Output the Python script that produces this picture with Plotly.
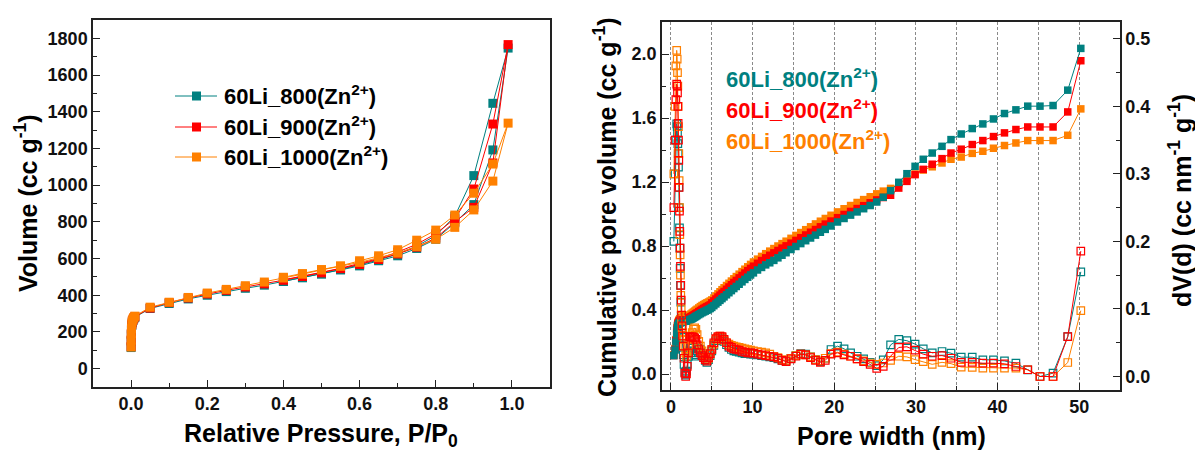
import plotly.graph_objects as go

# ---------------- data: N2 isotherms (left) ----------------
P_ads = [0.0001, 0.0003, 0.0006, 0.001, 0.002, 0.003, 0.005, 0.007, 0.01, 0.05, 0.10, 0.15, 0.20,
         0.25, 0.30, 0.35, 0.40, 0.45, 0.50, 0.55, 0.60, 0.65, 0.70, 0.75, 0.80, 0.85, 0.90, 0.95, 0.99]
P_des = [0.95, 0.90, 0.85, 0.80, 0.75, 0.70, 0.65, 0.60, 0.55, 0.50, 0.45, 0.40]

V800_ads = [115, 150, 185, 210, 235, 250, 262, 272, 280, 328, 355, 380, 400, 420, 438, 455, 475,
            495, 515, 538, 560, 588, 615, 655, 705, 795, 894, 1192, 1747]
V800_des = [1446, 1052, 830, 725, 668, 625, 592, 565, 540, 518, 497, 476]
V900_ads = [120, 155, 190, 215, 240, 255, 266, 275, 283, 330, 360, 385, 407, 427, 445, 462, 482,
            502, 522, 545, 568, 595, 625, 662, 712, 800, 879, 1121, 1766]
V900_des = [1333, 979, 817, 735, 678, 635, 600, 572, 547, 525, 504, 484]
V1000_ads = [118, 155, 190, 218, 245, 260, 270, 278, 286, 335, 362, 388, 412, 432, 452, 472, 494,
             515, 538, 558, 579, 605, 630, 665, 705, 770, 865, 1022, 1338]
V1000_des = [1115, 956, 837, 755, 700, 648, 615, 588, 560, 540, 518, 498]

# ---------------- data: pore size distribution (right) ----------------
W = [0.35, 0.50, 0.60, 0.70, 0.76, 0.80, 0.84, 0.88, 0.92, 0.96,
     1.00, 1.04, 1.08, 1.12, 1.16, 1.20, 1.25, 1.30, 1.36, 1.42,
     1.50, 1.60, 1.70, 1.80, 1.90, 2.00, 2.15, 2.30, 2.45, 2.60,
     2.75, 2.90, 3.05, 3.20, 3.40, 3.60, 3.80, 4.00, 4.20, 4.40,
     4.60, 4.80, 5.00, 5.25, 5.50, 5.75, 6.00, 6.25, 6.50, 6.80,
     7.10, 7.40, 7.70, 8.00, 8.35, 8.70, 9.05, 9.40, 9.75, 10.1,
     10.6, 11.1, 11.6, 12.1, 12.6, 13.1, 13.6, 14.1, 14.7, 15.3,
     15.9, 16.5, 17.1, 17.7, 18.3, 18.9, 19.6, 20.4, 21.2, 22.0,
     22.8, 23.6, 24.4, 25.2, 26.0, 26.9, 27.9, 28.9, 29.9, 30.9,
     32.0, 33.2, 34.3, 35.55, 36.9, 38.2, 39.5, 40.85, 42.25, 43.7,
     45.2, 46.8, 48.6, 50.2]

cum_800 = [0.115, 0.15, 0.20, 0.25, 0.275, 0.29, 0.30, 0.305, 0.31, 0.313,
           0.316, 0.318, 0.32, 0.321, 0.322, 0.323, 0.324, 0.325, 0.326, 0.327,
           0.328, 0.329, 0.33, 0.33, 0.331, 0.332, 0.335, 0.338, 0.342, 0.346,
           0.35, 0.355, 0.36, 0.365, 0.371, 0.377, 0.383, 0.388, 0.393, 0.398,
           0.403, 0.409, 0.416, 0.427, 0.438, 0.449, 0.46, 0.471, 0.482, 0.495,
           0.508, 0.521, 0.534, 0.547, 0.561, 0.576, 0.591, 0.605, 0.619, 0.632,
           0.65, 0.666, 0.682, 0.695, 0.71, 0.726, 0.742, 0.758, 0.778, 0.797,
           0.815, 0.833, 0.85, 0.868, 0.886, 0.904, 0.925, 0.95, 0.972, 0.993,
           1.013, 1.033, 1.053, 1.075, 1.105, 1.146, 1.198, 1.252, 1.298, 1.342,
           1.381, 1.423, 1.465, 1.50, 1.534, 1.563, 1.594, 1.628, 1.651, 1.674,
           1.674, 1.678, 1.774, 2.035]
cum_900 = [0.115, 0.155, 0.21, 0.26, 0.285, 0.30, 0.31, 0.317, 0.322, 0.326,
           0.329, 0.331, 0.333, 0.335, 0.336, 0.337, 0.338, 0.339, 0.34, 0.341,
           0.342, 0.343, 0.343, 0.343, 0.344, 0.345, 0.348, 0.353, 0.358, 0.363,
           0.368, 0.372, 0.377, 0.382, 0.39, 0.397, 0.404, 0.41, 0.416, 0.421,
           0.426, 0.432, 0.445, 0.457, 0.469, 0.481, 0.493, 0.505, 0.516, 0.53,
           0.544, 0.558, 0.572, 0.585, 0.601, 0.616, 0.631, 0.646, 0.66, 0.674,
           0.692, 0.709, 0.726, 0.742, 0.757, 0.772, 0.787, 0.801, 0.818, 0.835,
           0.852, 0.869, 0.886, 0.903, 0.92, 0.937, 0.956, 0.977, 0.997, 1.016,
           1.034, 1.052, 1.07, 1.088, 1.103, 1.117, 1.162, 1.204, 1.246, 1.279,
           1.311, 1.346, 1.381, 1.405, 1.434, 1.459, 1.484, 1.507, 1.528, 1.544,
           1.544, 1.544, 1.638, 1.958]
cum_1000 = [0.12, 0.16, 0.215, 0.265, 0.29, 0.305, 0.315, 0.322, 0.328, 0.333,
            0.337, 0.34, 0.343, 0.345, 0.347, 0.349, 0.351, 0.352, 0.353, 0.354,
            0.355, 0.356, 0.357, 0.358, 0.359, 0.36, 0.364, 0.369, 0.375, 0.381,
            0.387, 0.393, 0.399, 0.405, 0.413, 0.421, 0.428, 0.434, 0.44, 0.445,
            0.45, 0.456, 0.463, 0.475, 0.488, 0.501, 0.514, 0.527, 0.539, 0.553,
            0.567, 0.581, 0.595, 0.609, 0.624, 0.64, 0.655, 0.67, 0.685, 0.70,
            0.718, 0.735, 0.752, 0.768, 0.784, 0.80, 0.815, 0.83, 0.848, 0.866,
            0.884, 0.902, 0.92, 0.938, 0.955, 0.972, 0.992, 1.013, 1.033, 1.053,
            1.072, 1.09, 1.108, 1.126, 1.143, 1.16, 1.19, 1.22, 1.25, 1.275,
            1.295, 1.319, 1.342, 1.356, 1.379, 1.392, 1.411, 1.428, 1.444, 1.459,
            1.459, 1.459, 1.492, 1.657]

dv_800 = [0.20, 0.30, 0.35, 0.374, 0.37, 0.36, 0.345, 0.33, 0.31, 0.28,
          0.25, 0.22, 0.19, 0.16, 0.135, 0.11, 0.09, 0.072, 0.058, 0.045,
          0.032, 0.018, 0.006, 0.002, 0.008, 0.018, 0.03, 0.038, 0.044, 0.042,
          0.035, 0.03, 0.032, 0.038, 0.042, 0.04, 0.034, 0.028, 0.024, 0.021,
          0.025, 0.031, 0.038, 0.046, 0.053, 0.057, 0.058, 0.056, 0.052, 0.047,
          0.043, 0.04, 0.038, 0.037, 0.036, 0.035, 0.034, 0.034, 0.033, 0.033,
          0.032, 0.031, 0.03, 0.029, 0.028, 0.026, 0.024, 0.023, 0.027, 0.031,
          0.034, 0.033, 0.029, 0.025, 0.022, 0.027, 0.04, 0.045, 0.041, 0.035,
          0.03, 0.026, 0.021, 0.016, 0.0247, 0.0468, 0.055, 0.053, 0.048, 0.041,
          0.035, 0.037, 0.0345, 0.0286, 0.0286, 0.0247, 0.0247, 0.023, 0.0197, 0.0099,
          0.0, 0.005, 0.059, 0.155]
dv_900 = [0.25, 0.35, 0.41, 0.433, 0.43, 0.42, 0.40, 0.375, 0.35, 0.32,
          0.28, 0.245, 0.215, 0.19, 0.163, 0.135, 0.113, 0.091, 0.075, 0.06,
          0.045, 0.027, 0.005, 0.0, 0.004, 0.015, 0.035, 0.059, 0.058, 0.059,
          0.058, 0.057, 0.055, 0.047, 0.04, 0.035, 0.031, 0.028, 0.025, 0.0227,
          0.028, 0.034, 0.04, 0.05, 0.056, 0.059, 0.06, 0.059, 0.055, 0.05,
          0.045, 0.043, 0.041, 0.04, 0.039, 0.037, 0.036, 0.035, 0.035, 0.0345,
          0.033, 0.032, 0.031, 0.03, 0.029, 0.027, 0.024, 0.022, 0.026, 0.03,
          0.033, 0.032, 0.028, 0.024, 0.021, 0.024, 0.033, 0.035, 0.032, 0.03,
          0.026, 0.022, 0.018, 0.012, 0.015, 0.03, 0.043, 0.044, 0.039, 0.033,
          0.03, 0.031, 0.027, 0.021, 0.021, 0.0197, 0.0197, 0.0187, 0.0148, 0.01,
          0.0, 0.0, 0.059, 0.1857]
dv_1000 = [0.30, 0.40, 0.46, 0.483, 0.47, 0.45, 0.43, 0.40, 0.37, 0.33,
           0.29, 0.25, 0.21, 0.18, 0.15, 0.12, 0.10, 0.085, 0.072, 0.065,
           0.06, 0.055, 0.045, 0.035, 0.03, 0.035, 0.045, 0.055, 0.06, 0.065,
           0.07, 0.072, 0.07, 0.062, 0.052, 0.045, 0.038, 0.032, 0.028, 0.025,
           0.027, 0.033, 0.04, 0.048, 0.055, 0.058, 0.06, 0.058, 0.054, 0.05,
           0.048, 0.046, 0.045, 0.044, 0.043, 0.042, 0.041, 0.04, 0.039, 0.038,
           0.037, 0.036, 0.035, 0.033, 0.03, 0.028, 0.025, 0.024, 0.027, 0.031,
           0.033, 0.032, 0.029, 0.025, 0.023, 0.027, 0.034, 0.036, 0.033, 0.03,
           0.026, 0.023, 0.02, 0.018, 0.02, 0.024, 0.03, 0.029, 0.025, 0.022,
           0.018, 0.021, 0.019, 0.014, 0.0135, 0.0125, 0.0125, 0.0125, 0.0125, 0.01,
           0.0, 0.0, 0.0207, 0.0975]

NAMES = ["60Li_800(Zn<sup>2+</sup>)", "60Li_900(Zn<sup>2+</sup>)", "60Li_1000(Zn<sup>2+</sup>)"]
TEAL, RED, ORANGE = "#008080", "#FF0000", "#FF8000"

FONT = "Arial, 'Liberation Sans', Helvetica, sans-serif"
FW, FH = 1195, 452


def px(x):
    return x / FW


def py(y):
    return 1 - y / FH


fig = go.Figure()

# ---- left chart: isotherms (adsorption then desorption in one loop) ----
for col, ads, des, nm in [(TEAL, V800_ads, V800_des, NAMES[0]),
                          (RED, V900_ads, V900_des, NAMES[1]),
                          (ORANGE, V1000_ads, V1000_des, NAMES[2])]:
    fig.add_trace(go.Scatter(
        x=P_ads + P_des, y=ads + des, mode="lines+markers", name=nm,
        line=dict(color=col, width=1),
        marker=dict(symbol="square", size=9, color=col, line=dict(width=0)),
        xaxis="x", yaxis="y", showlegend=False))

# ---- right chart: cumulative (filled) ----
for col, cum in [(ORANGE, cum_1000), (RED, cum_900), (TEAL, cum_800)]:
    fig.add_trace(go.Scatter(
        x=W, y=cum, mode="lines+markers",
        line=dict(color=col, width=1),
        marker=dict(symbol="square", size=7.5, color=col, line=dict(width=0)),
        xaxis="x2", yaxis="y2", showlegend=False))

# ---- right chart: dV(d) (open) ----
for col, dv in [(TEAL, dv_800), (ORANGE, dv_1000), (RED, dv_900)]:
    fig.add_trace(go.Scatter(
        x=W, y=dv, mode="lines+markers",
        line=dict(color=col, width=1),
        marker=dict(symbol="square-open", size=7.5, color=col, line=dict(width=1.2, color=col)),
        xaxis="x2", yaxis="y3", showlegend=False))

axis_common = dict(showline=True, linecolor="#222222", linewidth=1.5, ticks="inside",
                   tickcolor="#222222", tickwidth=1.2, ticklen=7, zeroline=False, showgrid=False,
                   tickfont=dict(family=FONT, size=18, color="#111111", weight="bold"))

fig.update_layout(
    width=FW, height=FH, margin=dict(l=0, r=0, t=0, b=0, pad=0),
    paper_bgcolor="white", plot_bgcolor="white",
    font=dict(family=FONT, color="#000000"),
    xaxis=dict(**axis_common, domain=[px(93), px(550)], range=[-0.1, 1.1], tick0=0, dtick=0.2,
               tickformat=".1f", mirror=True, anchor="y",
               minor=dict(dtick=0.1, ticks="inside", ticklen=4, tickcolor="#222222")),
    yaxis=dict(**axis_common, domain=[py(387), py(20)], range=[-100, 1900], tick0=0, dtick=200,
               mirror=True, anchor="x",
               minor=dict(dtick=100, ticks="inside", ticklen=4, tickcolor="#222222")),
    xaxis2=dict(**axis_common, domain=[px(662), px(1120)], range=[-1.1, 55], tick0=0, dtick=10,
                mirror=True, anchor="y2",
                minor=dict(dtick=5, ticks="inside", ticklen=4, tickcolor="#222222",
                           showgrid=True, gridcolor="#8a8a8a", gridwidth=1, griddash="3px,2px")),
    yaxis2=dict(**axis_common, domain=[py(390), py(22)], range=[-0.1, 2.2], tick0=0, dtick=0.4,
                tickformat=".1f", anchor="x2",
                minor=dict(dtick=0.2, ticks="inside", ticklen=4, tickcolor="#222222")),
    yaxis3=dict(**axis_common, range=[-0.02, 0.525], tick0=0, dtick=0.1, tickformat=".1f",
                overlaying="y2", side="right", anchor="x2",
                minor=dict(dtick=0.05, ticks="inside", ticklen=4, tickcolor="#222222")),
)
# major dashed gridlines on x2 at the labelled positions as well
fig.update_layout(xaxis2=dict(showgrid=True, gridcolor="#8a8a8a", gridwidth=1, griddash="3px,2px"))

ann = []
tfont = dict(family=FONT, size=25, color="#000000")
ann.append(dict(text="<b>Relative Pressure, P/P<sub>0</sub></b>", x=px(321), y=py(435),
                xref="paper", yref="paper", showarrow=False, xanchor="center", yanchor="middle",
                font=tfont))
ann.append(dict(text="<b>Volume (cc g<sup>-1</sup>)</b>", x=px(26), y=py(203), textangle=-90,
                xref="paper", yref="paper", showarrow=False, xanchor="center", yanchor="middle",
                font=tfont))
ann.append(dict(text="<b>Pore width (nm)</b>", x=px(891), y=py(436),
                xref="paper", yref="paper", showarrow=False, xanchor="center", yanchor="middle",
                font=tfont))
ann.append(dict(text="<b>Cumulative pore volume (cc g<sup>-1</sup>)</b>", x=px(605), y=py(207),
                textangle=-90, xref="paper", yref="paper", showarrow=False,
                xanchor="center", yanchor="middle", font=tfont))
ann.append(dict(text="<b>dV(d) (cc nm<sup>-1</sup> g<sup>-1</sup>)</b>", x=px(1180), y=py(201),
                textangle=-90, xref="paper", yref="paper", showarrow=False,
                xanchor="center", yanchor="middle", font=tfont))

# left legend (line + square + label)
shapes = []
for i, (col, nm) in enumerate(zip([TEAL, RED, ORANGE], NAMES)):
    yc = [96, 127, 157][i]
    shapes.append(dict(type="line", xref="paper", yref="paper", x0=px(175), x1=px(217),
                       y0=py(yc), y1=py(yc), line=dict(color=col, width=1)))
    shapes.append(dict(type="rect", xref="paper", yref="paper", x0=px(192), x1=px(201),
                       y0=py(yc - 4.5), y1=py(yc + 4.5), fillcolor=col, line=dict(width=0)))
    ann.append(dict(text="<b>" + nm + "</b>", x=px(222), y=py(yc - 1), xref="paper", yref="paper",
                    showarrow=False, xanchor="left", yanchor="middle",
                    font=dict(family=FONT, size=22, color="#000000")))

# right legend (coloured text)
for col, nm, yc in zip([TEAL, RED, ORANGE], NAMES, [78, 109, 140]):
    ann.append(dict(text="<b>" + nm + "</b>", x=px(724), y=py(yc), xref="paper", yref="paper",
                    showarrow=False, xanchor="left", yanchor="middle",
                    font=dict(family=FONT, size=22, color=col)))

fig.update_layout(annotations=ann, shapes=shapes)

fig.write_html("out.html")
